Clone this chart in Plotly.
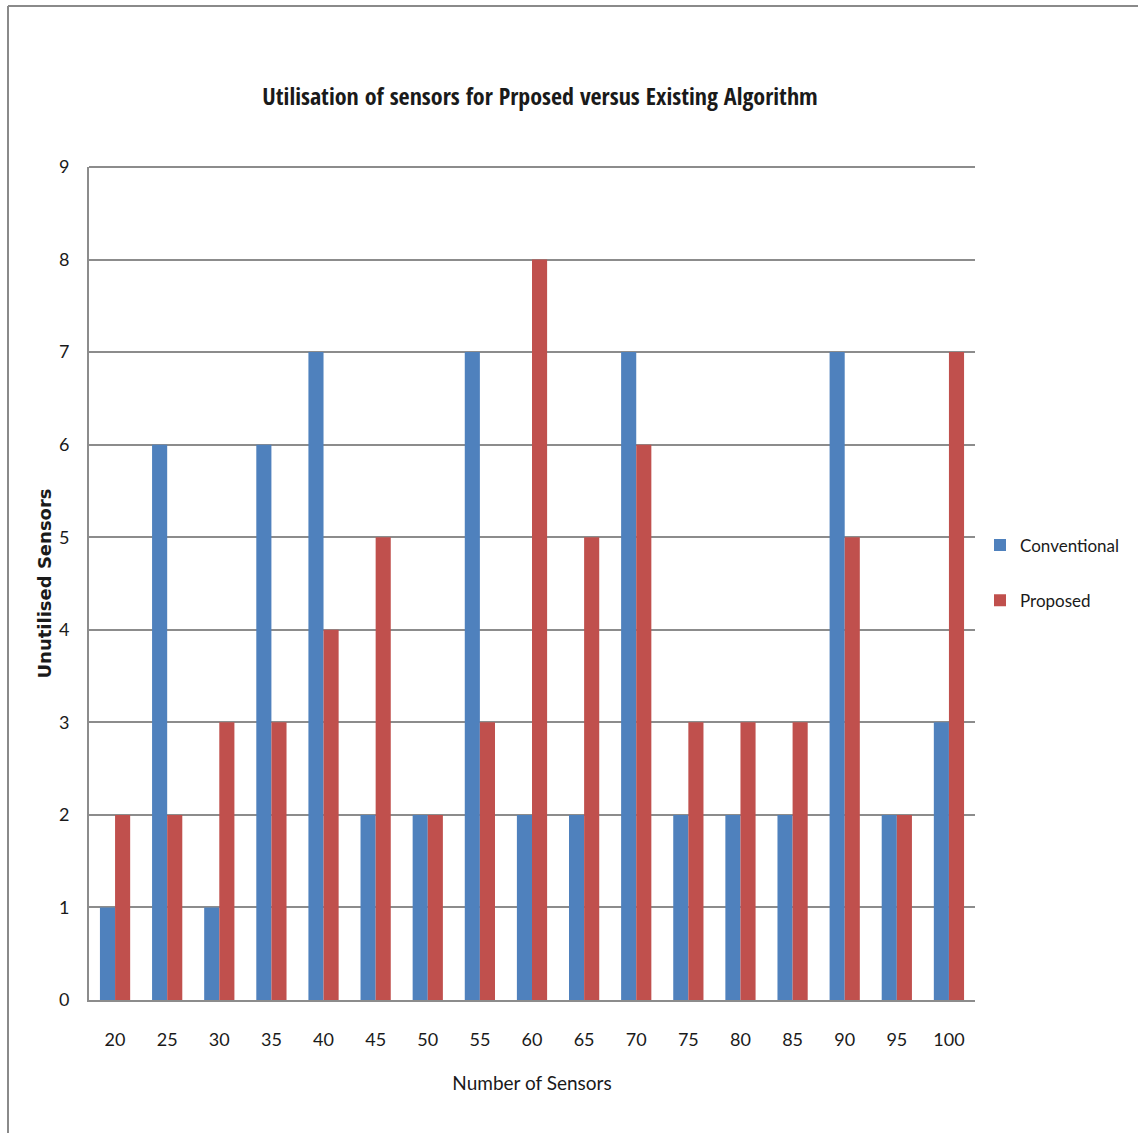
import plotly.graph_objects as go

categories = ["20", "25", "30", "35", "40", "45", "50", "55", "60", "65", "70", "75", "80", "85", "90", "95", "100"]
conventional = [1, 6, 1, 6, 7, 2, 2, 7, 2, 2, 7, 2, 2, 2, 7, 2, 3]
proposed = [2, 2, 3, 3, 4, 5, 2, 3, 8, 5, 6, 3, 3, 3, 5, 2, 7]
y_ticks = [0, 1, 2, 3, 4, 5, 6, 7, 8, 9]

W, H = 1138, 1133
L, R, T, B = 89, 975, 167, 1000
pw, ph = R - L, B - T

fig = go.Figure()
fig.add_trace(go.Bar(x=categories, y=conventional, name="Conventional",
                     marker=dict(color="#4F81BD", line=dict(width=0)),
                     legendgroup="a"))
fig.add_trace(go.Bar(x=categories, y=proposed, name="Proposed",
                     marker=dict(color="#C0504D", line=dict(width=0)),
                     legendgroup="b"))

def px(x):
    return (x - L) / pw

def py(y):
    return (B - y) / ph

shapes = [
    dict(type="line", xref="paper", yref="paper", x0=px(8), x1=px(W + 5), y0=py(6), y1=py(6),
         line=dict(color="#8a8a8a", width=2)),
    dict(type="line", xref="paper", yref="paper", x0=px(8), x1=px(8), y0=py(6), y1=py(H + 5),
         line=dict(color="#8a8a8a", width=2)),
    dict(type="line", xref="paper", yref="paper", x0=0, x1=1, y0=1, y1=1,
         line=dict(color="#8c8c8c", width=2)),
]

fig.update_layout(
    width=W, height=H,
    margin=dict(l=L, r=W - R, t=T, b=H - B),
    paper_bgcolor="white", plot_bgcolor="white",
    barmode="group", bargap=0.42, bargroupgap=0,
    title=dict(text="<b>Utilisation of sensors for Prposed versus Existing Algorithm</b>",
               x=540 / W, xanchor="center", y=1 - 97 / H, yanchor="middle",
               font=dict(family="Open Sans Condensed, Lato, Open Sans, sans-serif", size=24, color="#1a1a1a")),
    font=dict(family="Lato, Open Sans, sans-serif", color="#1a1a1a"),
    xaxis=dict(type="category", showgrid=False, showline=True, linecolor="#8c8c8c", linewidth=2,
               ticks="", tickfont=dict(size=18, color="#1a1a1a"), ticklabelstandoff=22,
               title=dict(text="Number of Sensors", font=dict(size=19, color="#1a1a1a"), standoff=28)),
    yaxis=dict(range=[0, 9], tickvals=y_ticks, showgrid=True, gridcolor="#8c8c8c", gridwidth=2,
               showline=True, linecolor="#8c8c8c", linewidth=2, ticks="", zeroline=False,
               tickfont=dict(size=18, color="#1a1a1a"), ticklabelstandoff=14,
               title=dict(text="<b>Unutilised Sensors</b>",
                          font=dict(family="DejaVu Sans", size=18, color="#1a1a1a"),
                          standoff=3)),
    legend=dict(x=px(980), xanchor="left", y=py(573), yanchor="middle",
                font=dict(size=17, color="#1a1a1a"), tracegroupgap=30,
                traceorder="grouped", itemwidth=30, bgcolor="rgba(0,0,0,0)"),
    shapes=shapes,
    showlegend=True,
)

fig.write_html("out.html", config={"displayModeBar": False},
               post_script="document.body.style.margin='0';document.body.style.overflow='hidden';")
